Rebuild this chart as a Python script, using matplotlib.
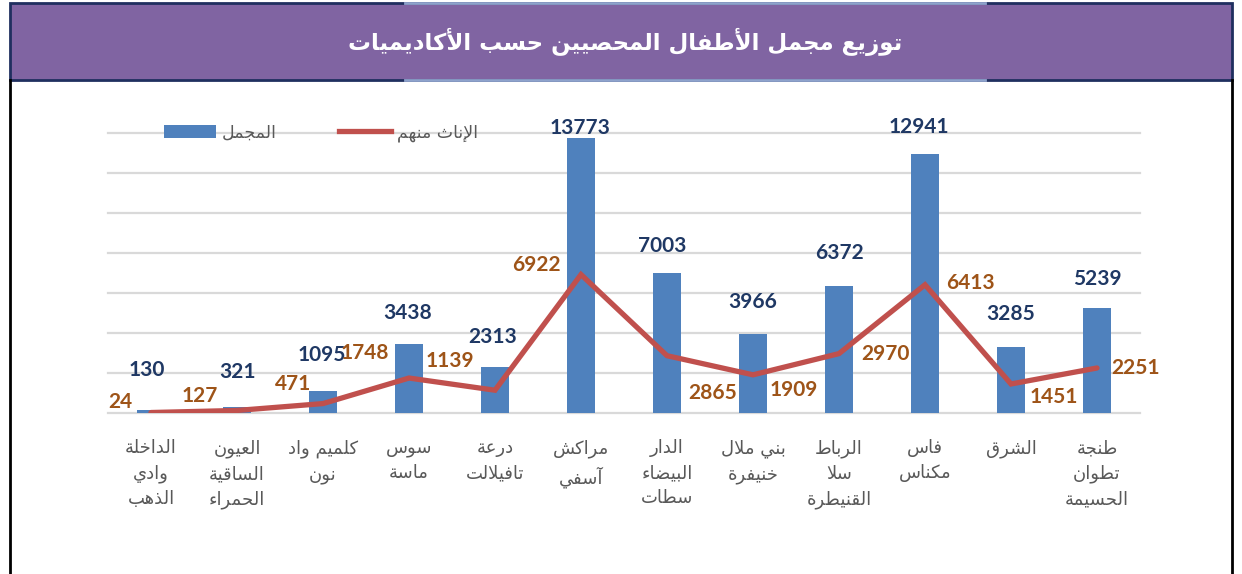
import matplotlib
matplotlib.use("Agg")
import matplotlib.pyplot as plt
from matplotlib.lines import Line2D
from matplotlib.patches import Patch, Rectangle
import numpy as np

# ---- data (left to right as in the picture) ----
regions = [
    "الداخلة\nوادي\nالذهب",
    "العيون\nالساقية\nالحمراء",
    "كلميم واد\nنون",
    "سوس\nماسة",
    "درعة\nتافيلالت",
    "مراكش\nآسفي",
    "الدار\nالبيضاء\nسطات",
    "بني ملال\nخنيفرة",
    "الرباط\nسلا\nالقنيطرة",
    "فاس\nمكناس",
    "الشرق",
    "طنجة\nتطوان\nالحسيمة",
]
totals = [130, 321, 1095, 3438, 2313, 13773, 7003, 3966, 6372, 12941, 3285, 5239]
females = [24, 127, 471, 1748, 1139, 6922, 2865, 1909, 2970, 6413, 1451, 2251]

title = "توزيع مجمل الأطفال المحصيين حسب الأكاديميات"
label_total = "المجمل"
label_female = "الإناث منهم"

# label offsets in pixels (as placed by hand in the original)
total_off = [(-4, 40), (0, 35), (-1, 36), (-1, 31), (-2, 30), (-1, 10),
             (-5, 27), (0, 32), (0, 33), (-6, 27), (0, 33), (0, 29)]
female_off = [(-31, 11), (-37, 14), (-30, 20), (-44, 25), (-45, 29), (-45, 10),
              (46, -37), (41, -15), (46, 0), (45, 2), (43, -13), (38, 0)]

# ---- minimal arabic shaping (matplotlib does not join letters) ----
AR_LETTERS = "ءآأؤإئابةتثجحخدذرزسشصضطظعغفقكلمنهوىي"
FORMS = {}
code = 0xFE80
for c in AR_LETTERS:
    n = 1 if c == "ء" else (2 if c in "آأؤإادذرزوىة" else 4)
    FORMS[c] = (code, n)
    code += n
LAM_ALEF = {"آ": 0xFEF5, "أ": 0xFEF7, "إ": 0xFEF9, "ا": 0xFEFB}


def joins_next(ch):
    return ch in FORMS and FORMS[ch][1] == 4


def shape_line(text):
    out = []
    i = 0
    while i < len(text):
        c = text[i]
        if c not in FORMS:
            out.append(c)
            i += 1
            continue
        jp = i > 0 and joins_next(text[i - 1])
        if c == "ل" and i + 1 < len(text) and text[i + 1] in LAM_ALEF:
            out.append(chr(LAM_ALEF[text[i + 1]] + (1 if jp else 0)))
            i += 2
            continue
        nxt = text[i + 1] if i + 1 < len(text) else ""
        base, n = FORMS[c]
        jn = n == 4 and nxt in FORMS
        if n == 1:
            f = 0
        elif n == 2:
            f = 1 if jp else 0
        else:
            f = 3 if (jp and jn) else 2 if jn else 1 if jp else 0
        out.append(chr(base + f))
        i += 1
    return "".join(reversed(out))


def shape(text):
    return "\n".join(shape_line(l) for l in text.split("\n"))


# ---- figure ----
W, H = 1242, 574
fig = plt.figure(figsize=(W / 100, H / 100), dpi=100)
fig.patch.set_facecolor("white")

# title banner and frame
fig.add_artist(Rectangle((10 / W, 1 - 80 / H), 1222 / W, 77 / H, transform=fig.transFigure,
                         facecolor="#8064A2", edgecolor="#1F2F5F", lw=2))
fig.add_artist(Line2D([405 / W, 985 / W], [1 - 3 / H] * 2, color="#8FA3CC", lw=2))
fig.add_artist(Line2D([405 / W, 985 / W], [1 - 80 / H] * 2, color="#8FA3CC", lw=2))
fig.add_artist(Line2D([10 / W] * 2, [0, 1 - 80 / H], color="black", lw=2))
fig.add_artist(Line2D([1232 / W] * 2, [0, 1 - 80 / H], color="black", lw=2))
fig.text(0.503, 1 - 42 / H, shape(title), color="white", fontsize=16.5,
         fontweight="bold", ha="center", va="center", family="DejaVu Sans")

ax = fig.add_axes([108 / W, 1 - 413 / H, 1032 / W, 280 / H])
x = np.arange(len(regions))
ax.bar(x, totals, width=0.32, color="#4F81BD", zorder=2)
ax.plot(x, females, color="#C0504D", lw=3.8, zorder=3, solid_capstyle="round",
        solid_joinstyle="miter")

ax.set_xlim(-0.5, len(regions) - 0.5)
ax.set_ylim(0, 14000)
ax.set_yticks(range(0, 14001, 2000))
ax.yaxis.grid(True, color="#D9D9D9", lw=1.6, zorder=0)
for gl in ax.get_ygridlines():
    gl.set_clip_on(False)
for s in ax.spines.values():
    s.set_visible(False)
ax.tick_params(axis="y", left=False, labelleft=False)
ax.set_xticks(x, [shape(r) for r in regions], fontsize=13, color="#595959",
              linespacing=1.5, family="DejaVu Sans")
ax.tick_params(axis="x", length=0, pad=19)

for i, v in enumerate(totals):
    ax.annotate(str(v), (i, v), xytext=total_off[i], textcoords="offset pixels",
                ha="center", va="center", fontsize=15, fontweight="bold",
                color="#1F3864", family="Lato", annotation_clip=False)
for i, v in enumerate(females):
    ax.annotate(str(v), (i, v), xytext=female_off[i], textcoords="offset pixels",
                ha="center", va="center", fontsize=15, fontweight="bold",
                color="#9E5418", family="Lato", annotation_clip=False, zorder=4)

handles = [Patch(facecolor="#4F81BD"), Line2D([], [], color="#C0504D", lw=3.8)]
fig.legend(handles, [shape(label_total), shape(label_female)], ncol=2, frameon=False,
           loc="center left", bbox_to_anchor=(148 / W, 1 - 133 / H),
           handlelength=3.0, handleheight=0.8, handletextpad=0.35, columnspacing=3.6,
           labelcolor="#595959", prop={"family": "DejaVu Sans", "size": 12.5})

fig.savefig("out.png", dpi=100)
